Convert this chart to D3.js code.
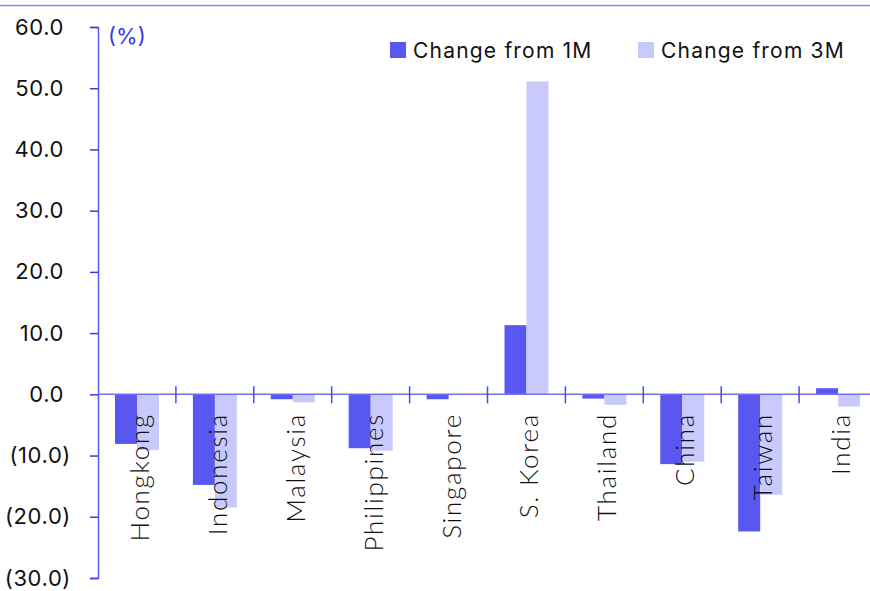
<!DOCTYPE html>
<html>
<head>
<meta charset="utf-8">
<script src="https://cdn.jsdelivr.net/npm/d3@7"></script>
<style>
  body { margin: 0; background: #fff; }
  svg { display: block; }
</style>
</head>
<body>
<div id="chart"></div>
<script>
// Données
const categories = ["Hongkong", "Indonesia", "Malaysia", "Philippines", "Singapore", "S. Korea", "Thailand", "China", "Taiwan", "India"];
const change1M = [-8.1, -14.8, -0.8, -8.8, -0.8, 11.3, -0.7, -11.4, -22.4, 1.0];
const change3M = [-9.1, -18.5, -1.3, -9.2, 0.0, 51.1, -1.7, -11.0, -16.4, -2.0];
const seriesNames = ["Change from 1M", "Change from 3M"];
const yTicks = [60, 50, 40, 30, 20, 10, 0, -10, -20, -30];

const width = 870;
const height = 591;
const colors = ["#5858f0", "#c9c9fc"];

const svg = d3.select("#chart")
    .append("svg")
    .attr("width", width)
    .attr("height", height);

// Ligne en haut
svg.append("line")
    .attr("x1", 0).attr("x2", width)
    .attr("y1", 5.5).attr("y2", 5.5)
    .attr("stroke", "#8c8cf0")
    .attr("stroke-width", 1.5);

const y = d3.scaleLinear().domain([-30, 60]).range([578, 27]);
const x = d3.scaleBand().domain(categories).range([98, 877]);
const xInner = d3.scaleBand().domain([0, 1]).range([17, 61]);

// Axe Y
const yAxis = svg.append("g")
    .attr("transform", "translate(98,0)")
    .call(d3.axisLeft(y).tickValues(yTicks).tickSize(8).tickPadding(0)
        .tickFormat(d => d < 0 ? `(${Math.abs(d).toFixed(1)})` : d.toFixed(1)));
yAxis.select(".domain").attr("stroke", "#5a5aee").attr("stroke-width", 1.5);
yAxis.selectAll(".tick line").attr("stroke", "#3a3ae0").attr("stroke-width", 1.5);
yAxis.selectAll(".tick text")
    .attr("x", d => d < 0 ? -27 : -34)
    .attr("fill", "#111")
    .style("font-family", "Inter, 'Noto Sans', sans-serif")
    .style("font-size", "22px")
    .style("letter-spacing", "0.6px");

svg.append("text")
    .attr("x", 108).attr("y", 44)
    .attr("fill", "#3a3ae0")
    .style("font-family", "Inter, 'Noto Sans', sans-serif")
    .style("font-size", "22px")
    .text("(%)");

// Barres
const groups = svg.selectAll(".group")
    .data(categories)
    .enter()
    .append("g")
    .attr("transform", d => `translate(${x(d)},0)`);

groups.selectAll("rect")
    .data((d, i) => [change1M[i], change3M[i]])
    .enter()
    .append("rect")
    .attr("x", (d, j) => xInner(j))
    .attr("width", xInner.bandwidth())
    .attr("y", d => y(Math.max(0, d)))
    .attr("height", d => Math.abs(y(d) - y(0)))
    .attr("fill", (d, j) => colors[j]);

// Axe X
svg.append("line")
    .attr("x1", 98).attr("x2", width)
    .attr("y1", y(0)).attr("y2", y(0))
    .attr("stroke", "#7070f0")
    .attr("stroke-width", 1.5);

svg.selectAll(".xtick")
    .data(categories.slice(1))
    .enter()
    .append("line")
    .attr("x1", d => x(d)).attr("x2", d => x(d))
    .attr("y1", y(0) - 8).attr("y2", y(0) + 9)
    .attr("stroke", "#4a4ae6")
    .attr("stroke-width", 1.5);

svg.selectAll(".xlabel")
    .data(categories)
    .enter()
    .append("text")
    .attr("transform", d => `translate(${x(d) + x.bandwidth() / 2 + 12},413) rotate(-90)`)
    .attr("text-anchor", "end")
    .attr("fill", "#111")
    .style("font-family", "Lato, 'Noto Sans', sans-serif")
    .style("font-weight", 300)
    .style("font-size", "26px")
    .style("letter-spacing", "1.7px")
    .text(d => d);

// Légende
const legend = svg.selectAll(".legend")
    .data(seriesNames)
    .enter()
    .append("g")
    .attr("transform", (d, i) => `translate(${i === 0 ? 390 : 638},42)`);
legend.append("rect")
    .attr("width", 16).attr("height", 16)
    .attr("fill", (d, i) => colors[i]);
legend.append("text")
    .attr("x", 23).attr("y", 15.5)
    .attr("fill", "#111")
    .style("font-family", "Inter, 'Noto Sans', sans-serif")
    .style("font-size", "21px")
    .style("letter-spacing", "1.2px")
    .text(d => d);
</script>
</body>
</html>
